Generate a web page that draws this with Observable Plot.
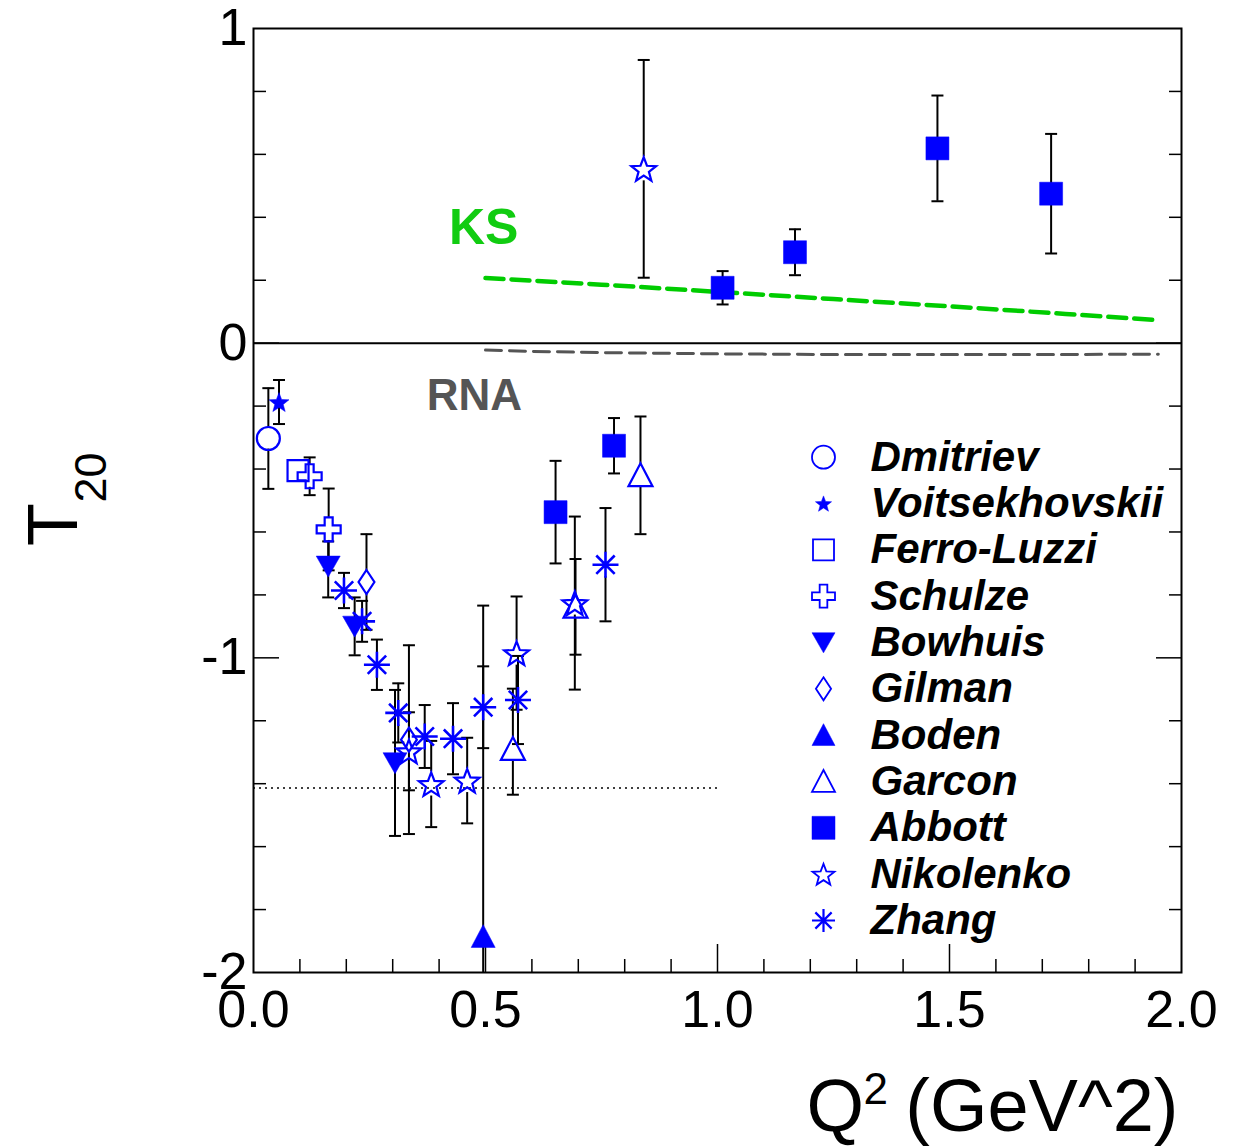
<!DOCTYPE html>
<html>
<head>
<meta charset="utf-8">
<script src="https://cdn.jsdelivr.net/npm/d3@7"></script>
<script src="https://cdn.jsdelivr.net/npm/@observablehq/plot@0.6"></script>
<style>
  html, body { margin: 0; padding: 0; background: #fff; }
</style>
</head>
<body>
<div id="chart"></div>
<script>
// ---------------- DATA ----------------
const experiments = ["Dmitriev", "Voitsekhovskii", "Ferro-Luzzi", "Schulze", "Bowhuis", "Gilman",
                     "Boden", "Garcon", "Abbott", "Nikolenko", "Zhang"];

const pointExperiment = [
  "Dmitriev", "Voitsekhovskii", "Ferro-Luzzi", "Schulze", "Schulze",
  "Bowhuis", "Zhang", "Gilman", "Bowhuis", "Zhang",
  "Zhang", "Zhang", "Bowhuis", "Gilman", "Nikolenko",
  "Zhang", "Nikolenko", "Zhang", "Nikolenko", "Zhang",
  "Boden", "Garcon", "Nikolenko", "Zhang", "Abbott",
  "Nikolenko", "Garcon", "Zhang", "Abbott", "Garcon",
  "Nikolenko", "Abbott", "Abbott", "Abbott", "Abbott"
];
const pointQ2 = [
  0.032, 0.055, 0.096, 0.121, 0.162,
  0.161, 0.195, 0.2435, 0.218, 0.234,
  0.266, 0.312, 0.305, 0.335, 0.335,
  0.369, 0.383, 0.430, 0.4605, 0.495,
  0.495, 0.559, 0.567, 0.570, 0.651,
  0.6925, 0.694, 0.7586, 0.777, 0.834,
  0.841, 1.011, 1.167, 1.474, 1.719
];
const pointT20 = [
  -0.303, -0.187, -0.405, -0.423, -0.592,
  -0.709, -0.786, -0.759, -0.900, -0.884,
  -1.022, -1.175, -1.334, -1.260, -1.297,
  -1.250, -1.401, -1.257, -1.390, -1.157,
  -1.886, -1.290, -0.985, -1.134, -0.537,
  -0.826, -0.838, -0.704, -0.326, -0.420,
  0.554, 0.176, 0.289, 0.619, 0.475
];
const pointErrUp = [
  0.16, 0.07, 0, 0.06, 0.13,
  0.079, 0.056, 0.152, 0.092, 0.065,
  0.08, 0.094, 0.232, 0.30, 0.124,
  0.10, 0.137, 0.113, 0.136, 0.13,
  1.052, 0.192, 0.18, 0.14, 0.163,
  0.275, 0.152, 0.18, 0.088, 0.187,
  0.346, 0.053, 0.073, 0.168, 0.19
];
const pointErrDown = [
  0.16, 0.07, 0, 0.06, 0.13,
  0.099, 0.056, 0.152, 0.092, 0.065,
  0.08, 0.094, 0.232, 0.30, 0.124,
  0.10, 0.137, 0.113, 0.136, 0.13,
  1.052, 0.145, 0.18, 0.14, 0.163,
  0.275, 0.152, 0.18, 0.088, 0.187,
  0.346, 0.053, 0.073, 0.168, 0.19
];

// theory curves
const ksQ2  = [0.5, 0.75, 1.0, 1.25, 1.5, 1.75, 1.95];
const ksT20 = [0.207, 0.186, 0.163, 0.140, 0.117, 0.093, 0.073];
const rnaQ2  = [0.5, 0.6, 0.75, 1.0, 1.25, 1.5, 1.75, 1.95];
const rnaT20 = [-0.022, -0.026, -0.030, -0.034, -0.036, -0.036, -0.036, -0.035];

// -sqrt(2) limit line
const limitQ2 = [0, 1.0];
const limitT20 = [-1.414];

// curve labels
const curveLabel = ["KS", "RNA"];
const curveLabelQ2 = [0.496, 0.476];
const curveLabelT20 = [0.366, -0.169];

// ticks
const xLabelTicks = [0, 0.5, 1, 1.5, 2];
const xMajorTicks = [0.5, 1, 1.5];
const xMinorTicks = [0.1, 0.2, 0.3, 0.4, 0.6, 0.7, 0.8, 0.9, 1.1, 1.2, 1.3, 1.4, 1.6, 1.7, 1.8, 1.9];
const yLabelTicks = [-2, -1, 0, 1];
const yMajorTicks = [-1, 0];
const yMinorTicks = [-1.8, -1.6, -1.4, -1.2, -0.8, -0.6, -0.4, -0.2, 0.2, 0.4, 0.6, 0.8];

// ---------------- STYLE ----------------
const BLUE = "#0000ff";
const expShape  = ["circle", "star", "square", "cross", "triangleDown", "diamond",
                   "triangleUp", "triangleUp", "square", "star", "asterisk"];
const expFilled = [false, true, false, false, true, false, true, false, true, false, false];
const expRadius = [11.5, 10.5, 10.5, 12, 12, 12, 12, 12, 11.5, 13, 13];

function poly(ctx, pts) {
  ctx.moveTo(pts[0][0], pts[0][1]);
  for (let i = 1; i < pts.length; i++) ctx.lineTo(pts[i][0], pts[i][1]);
  ctx.closePath();
}
const shapes = {
  circle: (ctx, R) => { ctx.moveTo(R, 0); ctx.arc(0, 0, R, 0, 2 * Math.PI); },
  square: (ctx, R) => poly(ctx, [[-R, -R], [R, -R], [R, R], [-R, R]]),
  cross: (ctx, R) => {
    const a = R / 3;
    poly(ctx, [[-a, -R], [a, -R], [a, -a], [R, -a], [R, a], [a, a], [a, R], [-a, R], [-a, a], [-R, a], [-R, -a], [-a, -a]]);
  },
  triangleDown: (ctx, R) => poly(ctx, [[-R, -0.85 * R], [R, -0.85 * R], [0, 0.9 * R]]),
  triangleUp: (ctx, R) => poly(ctx, [[0, -R], [R, R * 0.9], [-R, R * 0.9]]),
  diamond: (ctx, R) => poly(ctx, [[0, -R], [0.66 * R, 0], [0, R], [-0.66 * R, 0]]),
  star: (ctx, R) => {
    const pts = [];
    const r = 0.42 * R;
    for (let k = 0; k < 10; k++) {
      const ang = -Math.PI / 2 + k * Math.PI / 5;
      const rr = k % 2 === 0 ? R : r;
      pts.push([rr * Math.cos(ang), rr * Math.sin(ang) + 0.1 * R]);
    }
    poly(ctx, pts);
  },
  asterisk: (ctx, R) => {
    for (let k = 0; k < 4; k++) {
      const ang = k * Math.PI / 4;
      const dx = R * Math.cos(ang), dy = R * Math.sin(ang);
      ctx.moveTo(-dx, -dy); ctx.lineTo(dx, dy);
    }
  },
  cap: (ctx, R) => { ctx.moveTo(-R, 0); ctx.lineTo(R, 0); }
};
function sym(name) {
  return { draw(ctx, size) { shapes[name](ctx, Math.sqrt(size / Math.PI)); } };
}

// ---------------- BUILD ----------------
const points = pointQ2.map((q, i) => ({
  exp: pointExperiment[i],
  q2: q,
  t20: pointT20[i],
  hi: pointT20[i] + pointErrUp[i],
  lo: pointT20[i] - pointErrDown[i],
  hasErr: pointErrUp[i] > 0
}));
const withErr = points.filter(d => d.hasErr);
const caps = [];
withErr.forEach(d => {
  if (d.hi <= 1) caps.push({ q2: d.q2, v: d.hi });
  if (d.lo >= -2) caps.push({ q2: d.q2, v: d.lo });
});

const ks = ksQ2.map((q, i) => ({ q2: q, t20: ksT20[i] }));
const rna = rnaQ2.map((q, i) => ({ q2: q, t20: rnaT20[i] }));
const labels = curveLabel.map((t, i) => ({ text: t, q2: curveLabelQ2[i], t20: curveLabelT20[i] }));

const marks = [];

// axes ticks (inward)
const tickStyle = { stroke: "black", strokeWidth: 1.5, fill: "none" };
marks.push(Plot.axisX({ ticks: xMinorTicks, anchor: "bottom", tickSize: -13, ...tickStyle }));
marks.push(Plot.axisX({ ticks: xMajorTicks, anchor: "bottom", tickSize: -28, ...tickStyle }));
marks.push(Plot.axisY({ ticks: yMinorTicks, anchor: "left", tickSize: -13, ...tickStyle }));
marks.push(Plot.axisY({ ticks: yMajorTicks, anchor: "left", tickSize: -26, ...tickStyle }));
marks.push(Plot.axisY({ ticks: yMinorTicks, anchor: "right", tickSize: -13, ...tickStyle }));
marks.push(Plot.axisY({ ticks: yMajorTicks, anchor: "right", tickSize: -26, ...tickStyle }));

// tick labels
marks.push(Plot.axisX({ ticks: xLabelTicks, anchor: "bottom", tickSize: 0, tickPadding: 18,
  fontSize: 52, tickFormat: d => d.toFixed(1), label: null }));
marks.push(Plot.axisY({ ticks: yLabelTicks, anchor: "left", tickSize: 0, tickPadding: 6,
  fontSize: 52, tickFormat: d => String(d), label: null }));

// zero line and -sqrt2 limit
marks.push(Plot.ruleY([0], { stroke: "black", strokeWidth: 2 }));
marks.push(Plot.ruleY(limitT20, { x1: limitQ2[0], x2: limitQ2[1], stroke: "black", strokeWidth: 1.5, strokeDasharray: "2,4" }));

// theory curves
marks.push(Plot.line(ks, { x: "q2", y: "t20", stroke: "#00cc00", strokeWidth: 4.5, strokeDasharray: "18,8" }));
marks.push(Plot.line(rna, { x: "q2", y: "t20", stroke: "#555555", strokeWidth: 3, strokeDasharray: "16,8" }));
marks.push(Plot.text(labels, { x: "q2", y: "t20", text: "text", fontSize: d => d.text === "KS" ? 50 : 44,
  fontWeight: "bold", fill: d => d.text === "KS" ? "#11cc11" : "#555555", lineAnchor: "middle", textAnchor: "middle" }));

// error bars (with a gap around open markers)
experiments.forEach((e, k) => {
  const rows = withErr.filter(d => d.exp === e);
  const gap = expFilled[k] ? 0 : expRadius[k] - 1;
  marks.push(Plot.ruleX(rows, { x: "q2", y1: "hi", y2: "t20", insetBottom: gap, stroke: "black", strokeWidth: 2, clip: true }));
  marks.push(Plot.ruleX(rows, { x: "q2", y1: "t20", y2: "lo", insetTop: gap, stroke: "black", strokeWidth: 2, clip: true }));
});
marks.push(Plot.dot(caps, { x: "q2", y: "v", symbol: sym("cap"), r: 6, stroke: "black", strokeWidth: 2, fill: "none" }));

// markers
experiments.forEach((e, k) => {
  const rows = points.filter(d => d.exp === e);
  const filled = expFilled[k];
  const isAst = expShape[k] === "asterisk";
  marks.push(Plot.dot(rows, {
    x: "q2", y: "t20", symbol: sym(expShape[k]), r: expRadius[k],
    fill: filled ? BLUE : "none", stroke: BLUE, strokeWidth: isAst ? 2.6 : (filled ? 0.5 : 2.2),
    clip: true
  }));
});

// legend
const legendTop = 428.7, legendStep = 46.33;
experiments.forEach((e, k) => {
  const r = expShape[k] === "star" && expFilled[k] ? 8.5 : Math.min(expRadius[k], 11.5);
  marks.push(Plot.dot([e], {
    frameAnchor: "top-left", dx: 570, dy: legendTop + k * legendStep,
    symbol: sym(expShape[k]), r,
    fill: expFilled[k] ? BLUE : "none", stroke: BLUE,
    strokeWidth: expShape[k] === "asterisk" ? 2.2 : (expFilled[k] ? 0.5 : 1.8)
  }));
  marks.push(Plot.text([e], {
    frameAnchor: "top-left", dx: 617, dy: legendTop + k * legendStep, text: d => d,
    fontSize: 42, fontWeight: "bold", fontStyle: "italic", fill: "black",
    textAnchor: "start", lineAnchor: "middle"
  }));
});

// axis titles
marks.push(Plot.text(["T"], { frameAnchor: "left", dx: -199, dy: 24, text: d => d, rotate: -90,
  fontSize: 70, fill: "black", textAnchor: "middle", lineAnchor: "middle" }));
marks.push(Plot.text(["20"], { frameAnchor: "left", dx: -162, dy: -23, text: d => d, rotate: -90,
  fontSize: 45, fill: "black", textAnchor: "middle", lineAnchor: "middle" }));
marks.push(Plot.text(["Q"], { frameAnchor: "bottom-right", dx: -375, dy: 158, text: d => d,
  fontSize: 74, fill: "black", textAnchor: "start", lineAnchor: "bottom" }));
marks.push(Plot.text(["2"], { frameAnchor: "bottom-right", dx: -318, dy: 131, text: d => d,
  fontSize: 44, fill: "black", textAnchor: "start", lineAnchor: "bottom" }));
marks.push(Plot.text(["(GeV^2)"], { frameAnchor: "bottom-right", dx: -3, dy: 158, text: d => d,
  fontSize: 74, fill: "black", textAnchor: "end", lineAnchor: "bottom" }));

// frame
marks.push(Plot.frame({ stroke: "black", strokeWidth: 2 }));

const chart = Plot.plot({
  width: 1250,
  height: 1147,
  marginLeft: 253,
  marginRight: 69,
  marginTop: 28,
  marginBottom: 175,
  style: { fontFamily: "'Liberation Sans', Arial, Helvetica, sans-serif", background: "white", color: "black", overflow: "visible" },
  x: { domain: [0, 2], axis: null },
  y: { domain: [-2, 1], axis: null },
  marks
});
document.getElementById("chart").appendChild(chart);
</script>
</body>
</html>
